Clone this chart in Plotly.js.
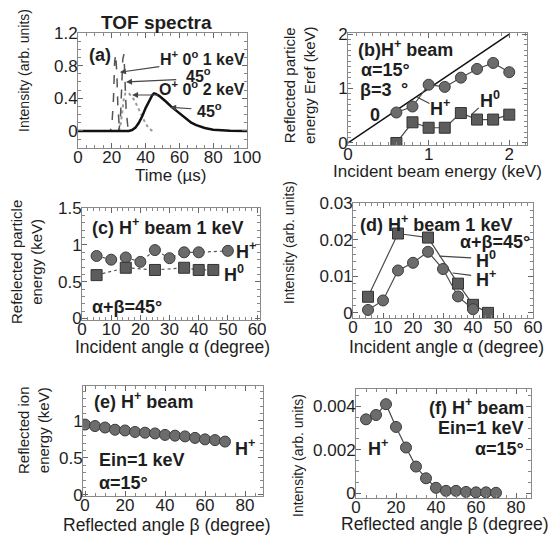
<!DOCTYPE html>
<html>
<head>
<meta charset="utf-8">
<script src="https://cdn.plot.ly/plotly-3.0.1.min.js"></script>
<style>html,body{margin:0;padding:0;background:#fff;}#chart{width:552px;height:539px;}</style>
</head>
<body>
<div id="chart"></div>
<script>
// ---------- DATA ----------
// (a) TOF spectra
const tofTimeHp0 = [15, 19, 20, 21, 21.7, 22.3, 23, 23.6, 24.5, 26];
const tofIntHp0  = [0, 0, 0.05, 0.4, 0.85, 0.94, 0.7, 0.3, 0.03, 0];
const tofTimeHp45 = [22, 24, 25, 25.8, 26.5, 27.2, 27.8, 28.5, 29.5, 31];
const tofIntHp45  = [0, 0, 0.1, 0.5, 0.88, 0.94, 0.6, 0.25, 0.05, 0];
const tofTimeOp0 = [24, 25, 26, 27, 28, 29, 30, 32, 34, 36, 38, 40, 42, 44];
const tofIntOp0  = [0, 0.05, 0.2, 0.38, 0.46, 0.47, 0.46, 0.42, 0.35, 0.26, 0.17, 0.09, 0.03, 0];
const tofTimeOp45 = [0, 30, 32, 34, 36, 38, 40, 42, 44, 45, 46, 48, 50, 52, 55, 58, 61, 64, 67, 70, 75, 80, 85, 90, 100];
const tofIntOp45  = [0, 0, 0.01, 0.04, 0.1, 0.18, 0.28, 0.37, 0.44, 0.46, 0.455, 0.43, 0.4, 0.36, 0.3, 0.25, 0.19, 0.14, 0.1, 0.07, 0.035, 0.015, 0.006, 0.002, 0];

// (b) reflected energy vs incident energy
const incidentEnergy = [0.6, 0.8, 1.0, 1.2, 1.4, 1.6, 1.8, 2.0];
const eRefHplus = [0.56, 0.67, 1.07, 1.03, 1.2, 1.36, 1.47, 1.3];
const eRefH0    = [0.0, 0.38, 0.28, 0.28, 0.55, 0.43, 0.43, 0.52];
const diagX = [0, 2];
const diagY = [0, 2];

// (c) reflected energy vs incident angle
const alphaC_Hplus = [5, 10, 15, 20, 25, 30, 35, 40, 50];
const energyC_Hplus = [0.85, 0.8, 0.83, 0.77, 0.93, 0.82, 0.9, 0.9, 0.92];
const alphaC_H0 = [5, 15, 25, 35, 40, 45];
const energyC_H0 = [0.59, 0.69, 0.66, 0.69, 0.66, 0.66];

// (d) intensity vs incident angle
const alphaD_H0 = [5, 15, 25, 35, 40, 45];
const intD_H0 = [0.0044, 0.0217, 0.0206, 0.008, 0.0022, 0.0];
const alphaD_Hplus = [5, 10, 15, 20, 25, 30, 35, 40];
const intD_Hplus = [0.0008, 0.0034, 0.0116, 0.0137, 0.0167, 0.012, 0.0045, 0.001];

// (e) reflected ion energy vs reflected angle
const betaE = [0, 5, 10, 15, 20, 25, 30, 35, 40, 45, 50, 55, 60, 65, 70];
const energyE = [0.95, 0.93, 0.91, 0.88, 0.87, 0.85, 0.84, 0.83, 0.81, 0.8, 0.79, 0.77, 0.75, 0.74, 0.72];

// (f) intensity vs reflected angle
const betaF = [5, 10, 15, 20, 25, 30, 35, 40, 45, 50, 55, 60, 65, 70];
const intF = [0.0034, 0.0036, 0.0041, 0.00305, 0.0021, 0.00122, 0.00068, 0.00024, 0.0001, 0.0001, 0.00005, 0.00003, 0.00003, 0.00001];

// ---------- STYLE / LAYOUT ----------
const W = 552, H = 539;
const FONT = '"Liberation Sans", Arial, Helvetica, sans-serif';
const TXT = '#1e1e1e';
function dx(l, r) { return [l / W, r / W]; }
function dy(t, b) { return [1 - b / H, 1 - t / H]; }

function axis(dom, range, tick0, dtick, minorD, anchor, standoff) {
  return {
    domain: dom, range: range, anchor: anchor, tickmode: 'linear', tick0: tick0, dtick: dtick,
    ticks: 'inside', ticklen: 5, tickwidth: 1, tickcolor: '#666',
    showline: true, linecolor: '#8a8a8a', linewidth: 1, mirror: 'allticks',
    showgrid: false, zeroline: false, ticklabelstandoff: standoff,
    tickfont: {family: FONT, size: 17, color: TXT},
    minor: {ticks: 'inside', ticklen: 3, tickcolor: '#888', dtick: minorD, tick0: tick0}
  };
}
function xax(dom, range, tick0, dtick, minorD, anchor) { return axis(dom, range, tick0, dtick, minorD, anchor, -6); }
function yax(dom, range, tick0, dtick, minorD, anchor) { return axis(dom, range, tick0, dtick, minorD, anchor, -4); }

const circ = {symbol: 'circle', size: 11, color: '#6c6c6c', line: {color: '#3c3c3c', width: 1}};
const sq = {symbol: 'square', size: 11, color: '#5c5c5c', line: {color: '#333', width: 1}};
const conn = {color: '#4a4a4a', width: 1.2};

const traces = [
  // (a)
  {x: tofTimeOp0, y: tofIntOp0, xaxis: 'x', yaxis: 'y', mode: 'lines', line: {color: '#9a9a9a', width: 2, dash: 'dot'}},
  {x: tofTimeHp0, y: tofIntHp0, xaxis: 'x', yaxis: 'y', mode: 'lines', line: {color: '#555', width: 1.5, dash: 'dash'}},
  {x: tofTimeHp45, y: tofIntHp45, xaxis: 'x', yaxis: 'y', mode: 'lines', line: {color: '#555', width: 1.5, dash: 'dash'}},
  {x: tofTimeOp45, y: tofIntOp45, xaxis: 'x', yaxis: 'y', mode: 'lines', line: {color: '#111', width: 2.5}},
  // (b)
  {x: diagX, y: diagY, xaxis: 'x2', yaxis: 'y2', mode: 'lines', line: {color: '#111', width: 1.5}},
  {x: incidentEnergy, y: eRefH0, xaxis: 'x2', yaxis: 'y2', mode: 'lines+markers', line: conn, marker: sq},
  {x: incidentEnergy, y: eRefHplus, xaxis: 'x2', yaxis: 'y2', mode: 'lines+markers', line: conn, marker: circ},
  // (c)
  {x: alphaC_Hplus, y: energyC_Hplus, xaxis: 'x3', yaxis: 'y3', mode: 'lines+markers', line: {color: '#555', width: 1.2, dash: 'dot'}, marker: circ},
  {x: alphaC_H0, y: energyC_H0, xaxis: 'x3', yaxis: 'y3', mode: 'lines+markers', line: {color: '#555', width: 1.2, dash: 'dot'}, marker: sq},
  // (d)
  {x: alphaD_H0, y: intD_H0, xaxis: 'x4', yaxis: 'y4', mode: 'lines+markers', line: conn, marker: sq},
  {x: alphaD_Hplus, y: intD_Hplus, xaxis: 'x4', yaxis: 'y4', mode: 'lines+markers', line: conn, marker: circ},
  // (e)
  {x: betaE, y: energyE, xaxis: 'x5', yaxis: 'y5', mode: 'markers', marker: circ},
  // (f)
  {x: betaF, y: intF, xaxis: 'x6', yaxis: 'y6', mode: 'lines+markers', line: conn, marker: circ}
];

function lab(text, x, y, xr, yr, anchor, size) {
  return {text: text, x: x, y: y, xref: xr, yref: yr, xanchor: anchor || 'left', yanchor: 'middle',
    showarrow: false, font: {family: FONT, size: size || 18, color: TXT, weight: 'bold'}};
}
function arrow(x, y, ax, ay, xr, yr, head) {
  return {text: '', x: x, y: y, ax: ax, ay: ay, xref: xr, yref: yr, axref: xr, ayref: yr,
    showarrow: true, arrowhead: head, arrowsize: 1, arrowwidth: 1.2, arrowcolor: '#444', standoff: 0, startstandoff: 0};
}
function ptitle(text, px, py, rot, size) {
  return {text: text, x: px / W, y: 1 - py / H, xref: 'paper', yref: 'paper', xanchor: 'center', yanchor: 'middle',
    showarrow: false, textangle: rot, font: {family: FONT, size: size, color: TXT}};
}

const annotations = [
  // titles
  {text: '<b>TOF spectra</b>', x: 156 / W, y: 1 - 22 / H, xref: 'paper', yref: 'paper', xanchor: 'center', yanchor: 'middle', showarrow: false, font: {family: FONT, size: 19, color: TXT}},
  ptitle('Time (µs)', 171, 176, 0, 17),
  ptitle('Intensity (arb. units)', 24, 71, -90, 14),
  ptitle('Incident beam energy (keV)', 437, 171, 0, 17),
  ptitle('Reflected particle<br>energy Eref (keV)', 300, 85, -90, 15),
  ptitle('Incident angle α (degree)', 172, 347, 0, 17.5),
  ptitle('Refelected particle<br>energy (keV)', 26, 262, -90, 15),
  ptitle('Incident angle α (degree)', 446, 347, 0, 17.5),
  ptitle('Intensity (arb. units)', 289, 243, -90, 14),
  ptitle('Reflected angle β (degree)', 167, 525, 0, 17.5),
  ptitle('Reflected ion<br>energy (keV)', 33, 430, -90, 15),
  ptitle('Reflected angle β (degree)', 445, 524, 0, 17.5),
  ptitle('Intensity (arb. units)', 298, 456, -90, 14),
  // (a)
  lab('(a)', 13, 0.93, 'x', 'y', 'center', 18),
  lab('H<sup>+</sup> 0<sup>o</sup> 1 keV', 100, 0.89, 'x', 'y', 'right', 16),
  lab('45<sup>o</sup>', 63, 0.69, 'x', 'y', 'left', 16),
  lab('O<sup>+</sup> 0<sup>o</sup> 2 keV', 100, 0.52, 'x', 'y', 'right', 16),
  lab('45<sup>o</sup>', 69, 0.26, 'x', 'y', 'left', 16),
  arrow(24.8, 0.72, 49, 0.79, 'x', 'y', 2),
  arrow(28.4, 0.6, 59, 0.63, 'x', 'y', 2),
  arrow(32, 0.44, 48.3, 0.44, 'x', 'y', 2),
  arrow(54.5, 0.29, 68, 0.27, 'x', 'y', 2),
  // (b)
  lab('(b)H<sup>+</sup> beam', 0.1, 1.74, 'x2', 'y2', 'left', 18),
  lab('α=15°', 0.14, 1.34, 'x2', 'y2', 'left', 18),
  lab('β=3', 0.12, 0.97, 'x2', 'y2', 'left', 18),
  lab('°', 0.7, 0.99, 'x2', 'y2', 'center', 18),
  lab('0', 0.335, 0.51, 'x2', 'y2', 'center', 18),
  lab('H<sup>+</sup>', 1.14, 0.655, 'x2', 'y2', 'center', 18),
  lab('H<sup>0</sup>', 1.755, 0.79, 'x2', 'y2', 'center', 18),
  arrow(0.86, 0.84, 1.03, 0.71, 'x2', 'y2', 0),
  arrow(1.53, 0.52, 1.64, 0.67, 'x2', 'y2', 0),
  // (c)
  lab('(c) H<sup>+</sup> beam 1 keV', 2.85, 1.25, 'x3', 'y3', 'left', 18),
  lab('H<sup>+</sup>', 52, 0.93, 'x3', 'y3', 'left', 18),
  lab('H<sup>0</sup>', 48, 0.61, 'x3', 'y3', 'left', 18),
  lab('α+β=45°', 2.85, 0.16, 'x3', 'y3', 'left', 18),
  // (d)
  lab('(d) H<sup>+</sup> beam 1 keV', 1.5, 0.0245, 'x4', 'y4', 'left', 18),
  lab('α+β=45°', 59.7, 0.0195, 'x4', 'y4', 'right', 18),
  lab('H<sup>0</sup>', 40.3, 0.0145, 'x4', 'y4', 'left', 18),
  lab('H<sup>+</sup>', 40.3, 0.0095, 'x4', 'y4', 'left', 18),
  arrow(28.8, 0.0155, 39.9, 0.015, 'x4', 'y4', 0),
  arrow(33.2, 0.0109, 39.9, 0.0102, 'x4', 'y4', 0),
  // (e)
  lab('(e) H<sup>+</sup> beam', 3.3, 1.28, 'x5', 'y5', 'left', 18),
  lab('H<sup>+</sup>', 74, 0.645, 'x5', 'y5', 'left', 18),
  lab('Ein=1 keV', 5.8, 0.47, 'x5', 'y5', 'left', 18),
  lab('α=15°', 5.8, 0.166, 'x5', 'y5', 'left', 18),
  // (f)
  lab('(f) H<sup>+</sup> beam', 85, 0.0040, 'x6', 'y6', 'right', 18),
  lab('Ein=1 keV', 85, 0.0030, 'x6', 'y6', 'right', 18),
  lab('α=15°', 85, 0.00203, 'x6', 'y6', 'right', 18),
  lab('H<sup>+</sup>', 10.8, 0.00208, 'x6', 'y6', 'center', 18)
];

const layout = {
  width: W, height: H, margin: {l: 0, r: 0, t: 0, b: 0},
  paper_bgcolor: '#fff', plot_bgcolor: '#fff', showlegend: false,
  font: {family: FONT, color: TXT},
  xaxis:  xax(dx(78, 247), [0, 100], 0, 20, 5, 'y'),
  yaxis:  yax(dy(33, 148), [-0.21, 1.201], 0, 0.4, 0.1, 'x'),
  xaxis2: xax(dx(348, 527), [0, 2.22], 0, 1, 0.1, 'y2'),
  yaxis2: yax(dy(33, 145), [-0.037, 2.02], 0, 1, 0.1, 'x2'),
  xaxis3: xax(dx(82, 260), [0, 61], 0, 10, 2, 'y3'),
  yaxis3: yax(dy(208, 320), [-0.02, 1.502], 0, 0.5, 0.1, 'x3'),
  xaxis4: xax(dx(353, 533), [0, 60], 0, 10, 2, 'y4'),
  yaxis4: yax(dy(203, 318), [-0.0014, 0.03005], 0, 0.01, 0.002, 'x4'),
  xaxis5: xax(dx(83, 263), [-1, 89], 0, 20, 5, 'y5'),
  yaxis5: yax(dy(386, 496), [-0.014, 1.47], 0, 0.5, 0.1, 'x5'),
  xaxis6: xax(dx(356, 531), [0, 87.5], 0, 20, 5, 'y6'),
  yaxis6: yax(dy(389, 498), [-0.00023, 0.0048], 0, 0.002, 0.0005, 'x6'),
  annotations: annotations
};

Plotly.newPlot('chart', traces, layout, {displayModeBar: false, staticPlot: true});
</script>
</body>
</html>
